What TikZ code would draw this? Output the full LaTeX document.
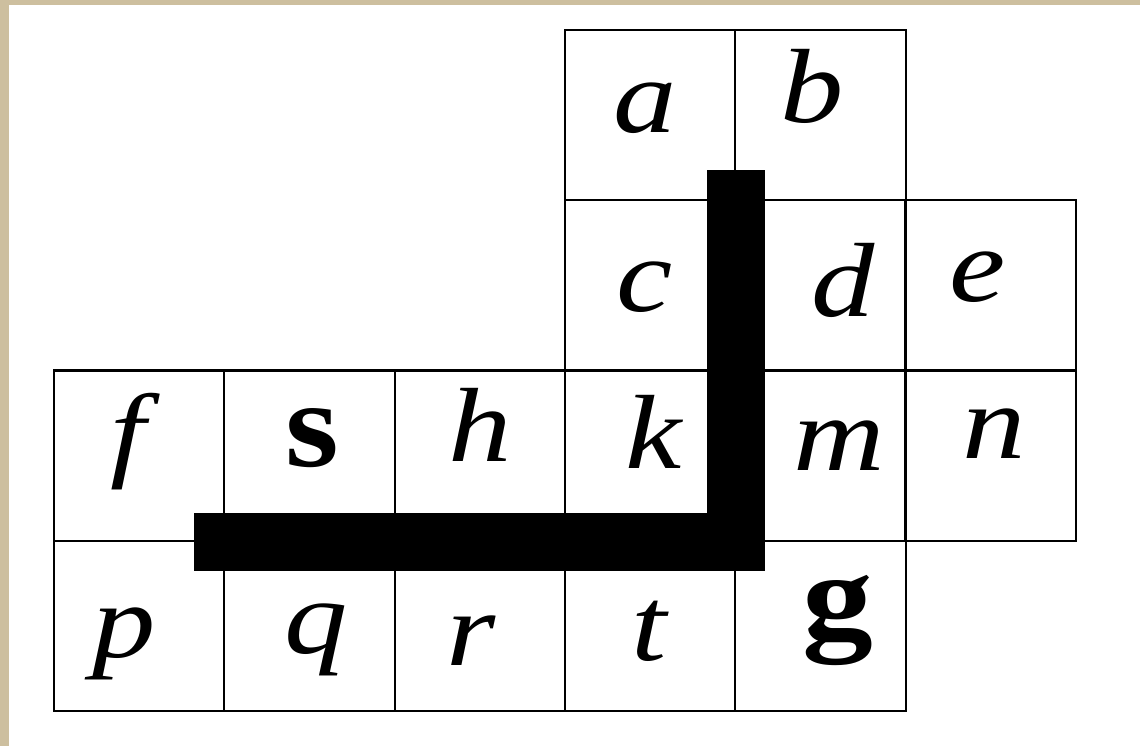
\documentclass[tikz,border=0pt]{standalone}
\usepackage{fontspec}
\setmainfont{Liberation Serif}
\usepackage{xcolor}
\usetikzlibrary{positioning}

\definecolor{parchment}{HTML}{CDBF9F}
\newcommand{\wideglyph}[1]{\scalebox{1.2}[1]{#1}}

\begin{document}
\begin{tikzpicture}[
  x=0.01cm, y=-0.01cm,
  cell/.style={rectangle, draw, line width=0.6pt, inner sep=0pt,
               minimum width=1.703cm, minimum height=1.703cm},
  letter/.style={inner sep=0pt, anchor=base, font=\fontsize{30}{36}\selectfont\itshape},
  boldletter/.style={inner sep=0pt, anchor=base, font=\fontsize{35}{40}\selectfont\bfseries},
  wall/.style={line width=0.58cm, line cap=rect, line join=miter},
]

% page background and white sheet
\fill[parchment] (0,0) rectangle (1140,746);
\fill[white] (9,5) rectangle (1140,746);

% the cells of the board
\foreach \name/\col/\row in {a/3/0, b/4/0, c/3/1, d/4/1, e/5/1,
                             f/0/2, s/1/2, h/2/2, k/3/2, m/4/2, n/5/2,
                             p/0/3, q/1/3, r/2/3, t/3/3, g/4/3}
  {\node[cell] (cell-\name) at ({54+170.3*(\col+0.5)}, {30+170.3*(\row+0.5)}) {};}

% italic labels
\foreach \name/\x/\y in {a/645/133, b/812/123, c/645/311, d/843/317, e/978/302,
                         f/128/467, h/480/461, k/654/468, m/839/470, n/994/458,
                         p/124/657, q/316/653, r/471/665, t/649/660}
  {\node[letter] (lbl-\name) at (\x,\y) {\wideglyph{\name}};}

% start and goal
\node[boldletter] (lbl-s) at (312,466) {\scalebox{1.12}[1]{s}};
\node[boldletter] (lbl-g) at (838,638) {\scalebox{1.15}[1]{g}};

% the wall
\draw[wall] (cell-s.south west) -- (cell-k.south east) -- (cell-c.north east);

\end{tikzpicture}
\end{document}
